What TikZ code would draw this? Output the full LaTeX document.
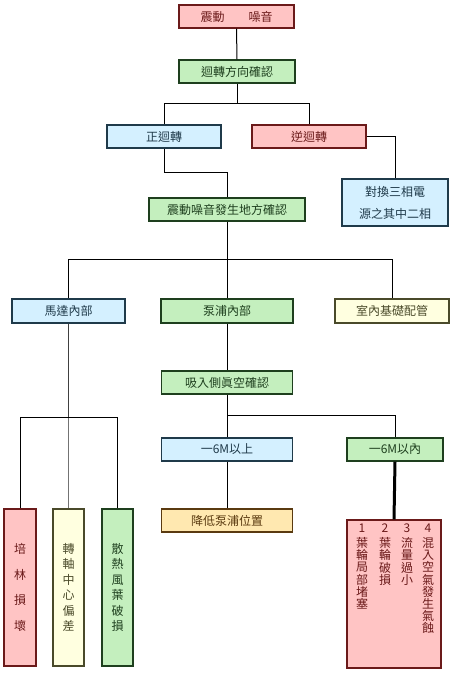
\documentclass[tikz,border=0pt]{standalone}
\usepackage{fontspec}
\newfontfamily\cjk{Noto Sans CJK TC}
\definecolor{pkF}{HTML}{FFC4C4}\definecolor{pkD}{HTML}{6B1A1A}
\definecolor{gnF}{HTML}{C4EFBE}\definecolor{gnD}{HTML}{1E3F1E}
\definecolor{blF}{HTML}{D4F0FF}\definecolor{blD}{HTML}{1F3A4A}
\definecolor{ywF}{HTML}{FFFFE0}\definecolor{ywD}{HTML}{4A4A2A}
\definecolor{orF}{HTML}{FFE8B0}\definecolor{orD}{HTML}{5A3A10}
\tikzset{
  box/.style={draw, line width=1.2pt, inner sep=0pt, align=center,
    font=\cjk\fontsize{12}{14}\selectfont},
  pinkbox/.style={box, fill=pkF, draw=pkD, text=pkD},
  greenbox/.style={box, fill=gnF, draw=gnD, text=gnD},
  bluebox/.style={box, fill=blF, draw=blD, text=blD},
  yellowbox/.style={box, fill=ywF, draw=ywD, text=ywD},
  orangebox/.style={box, fill=orF, draw=orD, text=orD},
  conn/.style={draw=black, line width=1pt},
  vcol/.style={inner sep=0pt, align=center, anchor=north, text=pkD,
    font=\cjk\fontsize{12}{12.2}\selectfont}
}
\begin{document}
\begin{tikzpicture}[x=1pt, y=-1pt]
\useasboundingbox (0,0) rectangle (459,687);
% boxes
\node[pinkbox, minimum width=115, minimum height=23] (a) at (236.5,16.5) {震動\hspace{24pt}噪音};
\node[greenbox, minimum width=116, minimum height=23] (b) at (237,71.5) {迴轉方向確認};
\node[bluebox, minimum width=114, minimum height=23] (c) at (164,136.5) {正迴轉};
\node[pinkbox, minimum width=114, minimum height=23] (d) at (309,136.5) {逆迴轉};
\node[bluebox, minimum width=106, minimum height=47, font=\cjk\fontsize{12}{22}\selectfont] (e) at (395,202.5) {對換三相電\\源之其中二相};
\node[greenbox, minimum width=156, minimum height=23] (f) at (227,209.5) {震動噪音發生地方確認};
\node[bluebox, minimum width=113, minimum height=24] (g) at (68.5,311) {馬達內部};
\node[greenbox, minimum width=132, minimum height=24] (h) at (227,311) {泵浦內部};
\node[yellowbox, minimum width=114, minimum height=24] (i) at (392,311) {室內基礎配管};
\node[greenbox, minimum width=131, minimum height=23] (j) at (227,382.5) {吸入側眞空確認};
\node[bluebox, minimum width=131, minimum height=23] (k) at (227,449.5) {一6M以上};
\node[greenbox, minimum width=96, minimum height=23] (l) at (395,449.5) {一6M以內};
\node[orangebox, minimum width=131, minimum height=23] (m) at (227,520.5) {降低泵浦位置};
\node[pinkbox, minimum width=32, minimum height=157, font=\cjk\fontsize{12}{25.5}\selectfont] (n) at (20,587.5) {培\\林\\損\\壞};
\node[yellowbox, minimum width=31, minimum height=157, font=\cjk\fontsize{12}{15.5}\selectfont] (o) at (68.5,587.5) {轉\\軸\\中\\心\\偏\\差};
\node[greenbox, minimum width=31, minimum height=157, font=\cjk\fontsize{12}{15.5}\selectfont] (p) at (117.5,587.5) {散\\熱\\風\\葉\\破\\損};
\node[pinkbox, minimum width=94, minimum height=148] (q) at (394,594) {};
% text columns in q
\node[vcol] (q1) at (362,524) {1\\[2.5pt]葉\\輪\\局\\部\\堵\\塞};
\node[vcol] (q2) at (385,524) {2\\[2.5pt]葉\\輪\\破\\損};
\node[vcol] (q3) at (407,524) {3\\[2.5pt]流\\量\\過\\小};
\node[vcol] (q4) at (428,524) {4\\[2.5pt]混\\入\\空\\氣\\發\\生\\氣\\蝕};
% connectors
\draw[conn] (a.south) -- (b.north);
\draw[conn] (b.south) -- ++(0,20) coordinate (bj) -| (c.north);
\draw[conn] (bj) -| (d.north);
\draw[conn] (d.east) -| (e.north);
\draw[conn] (c.south) -- ++(0,24) -| (f.north);
\draw[conn] (f.south) -- ++(0,38) coordinate (fj) -| (g.north);
\draw[conn] (fj) -| (i.north);
\draw[conn] (f.south) -- (h.north);
\draw[conn] (h.south) -- (j.north);
\draw[conn] (j.south) -- ++(0,21) coordinate (jj) -| (l.north);
\draw[conn] (j.south) -- (k.north);
\draw[conn] (k.south) -- (m.north);
\draw[draw=black, line width=3pt] (l.south) -- (q.north);
\draw[draw=black!75, line width=1.4pt] (g.south) -- ++(0,94) coordinate (gj);
\draw[draw=black!55, line width=1.4pt] (gj) -- (o.north);
\draw[conn] (gj) -| (n.north);
\draw[conn] (gj) -| (p.north);
\end{tikzpicture}
\end{document}
